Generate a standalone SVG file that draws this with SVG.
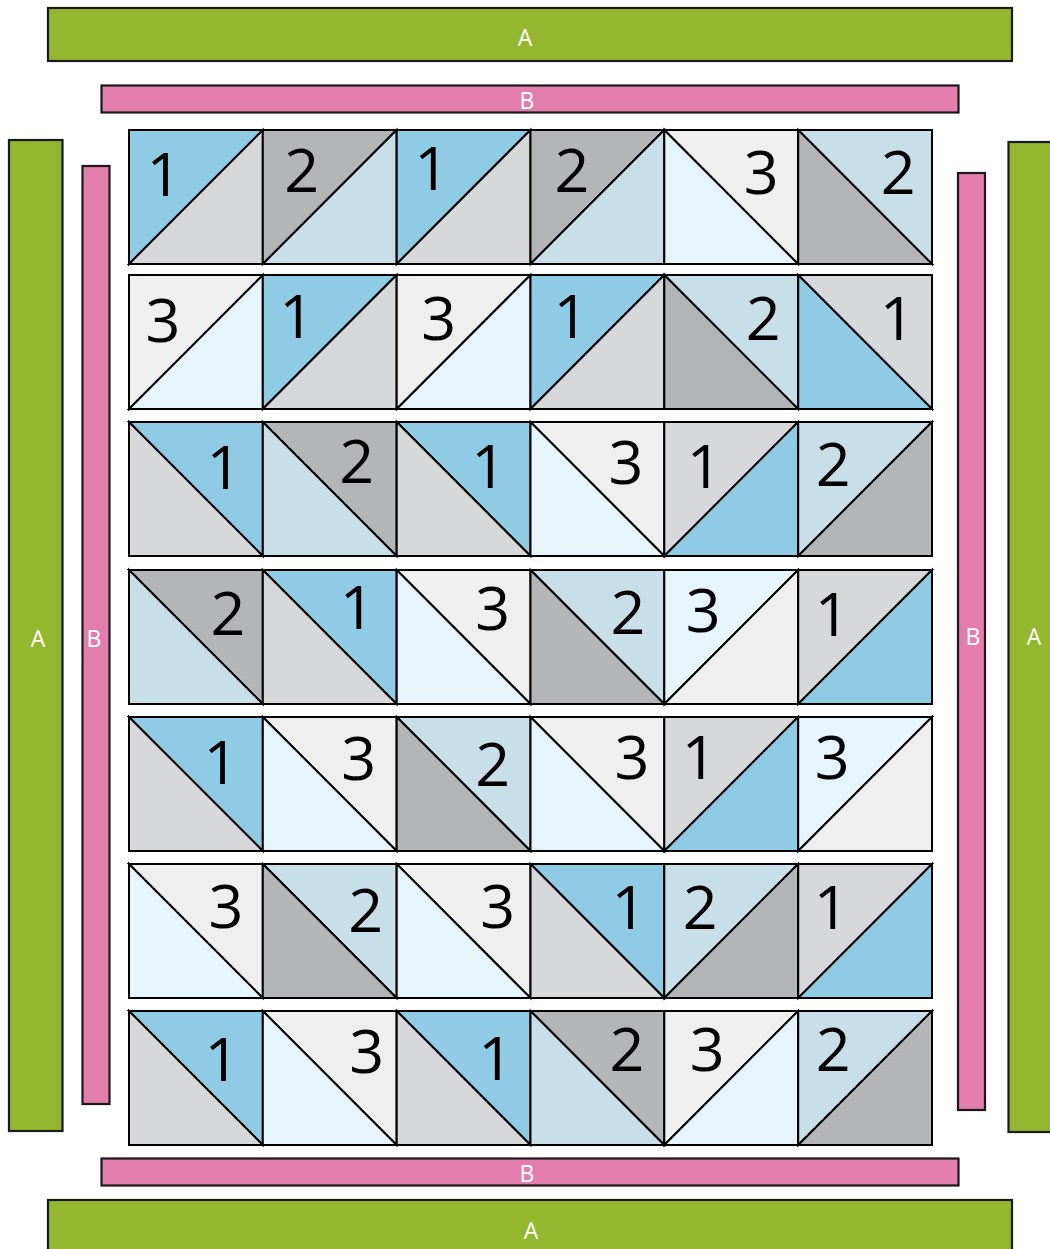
<svg xmlns="http://www.w3.org/2000/svg" width="1050" height="1249" viewBox="0 0 1050 1249">
<style>
.bg{fill:#ffffff}
.strip{stroke:#1a1a1a;stroke-width:2.2}
.sa{fill:#95b730}
.sb{fill:#e37dab}
.lbl{font-family:"Open Sans","Liberation Sans",sans-serif;font-size:23px;fill:#ffffff;text-anchor:middle}
.t{stroke:#000000;stroke-width:2;stroke-linejoin:miter}
.b1{fill:#90cbe6}
.lg{fill:#d7d8da}
.mg{fill:#b4b5b7}
.lb{fill:#c8dfea}
.vl{fill:#e6f4fb}
.ow{fill:#efefef}
.n{font-family:"Open Sans","Liberation Sans",sans-serif;font-size:61px;fill:#000000;text-anchor:middle}
</style>
<rect class="bg" x="0" y="0" width="1050" height="1249"/>
<g id="borders">
<g id="top-a"><rect class="strip sa" x="48" y="8" width="964" height="53"/><text class="lbl" x="525" y="46">A</text></g>
<g id="top-b"><rect class="strip sb" x="101.5" y="85.5" width="857" height="27"/><text class="lbl" x="527" y="109">B</text></g>
<g id="left-a"><rect class="strip sa" x="9" y="140" width="53.5" height="991"/><text class="lbl" x="38" y="647">A</text></g>
<g id="left-b"><rect class="strip sb" x="82.5" y="166" width="27" height="938"/><text class="lbl" x="94" y="647">B</text></g>
<g id="right-b"><rect class="strip sb" x="958" y="173" width="27" height="937"/><text class="lbl" x="973" y="645">B</text></g>
<g id="right-a"><rect class="strip sa" x="1008.5" y="142" width="60" height="990"/><text class="lbl" x="1034" y="645">A</text></g>
<g id="bottom-b"><rect class="strip sb" x="101.5" y="1158.5" width="857" height="27"/><text class="lbl" x="527" y="1182">B</text></g>
<g id="bottom-a"><rect class="strip sa" x="48" y="1200" width="964" height="70"/><text class="lbl" x="531" y="1239">A</text></g>
</g>
<g id="connectors"></g>
<g id="quilt">
<!-- Row 1 -->
<g id="r1c1" transform="translate(129,130)"><polygon class="t b1" points="0,0 133.8,0 0,134"/><polygon class="t lg" points="133.8,0 133.8,134 0,134"/><text class="n" x="35" y="66">1</text></g>
<g id="r1c2" transform="translate(262.8,130)"><polygon class="t mg" points="0,0 133.8,0 0,134"/><polygon class="t lb" points="133.8,0 133.8,134 0,134"/><text class="n" x="39" y="62">2</text></g>
<g id="r1c3" transform="translate(396.7,130)"><polygon class="t b1" points="0,0 133.8,0 0,134"/><polygon class="t lg" points="133.8,0 133.8,134 0,134"/><text class="n" x="35" y="60">1</text></g>
<g id="r1c4" transform="translate(530.5,130)"><polygon class="t mg" points="0,0 133.8,0 0,134"/><polygon class="t lb" points="133.8,0 133.8,134 0,134"/><text class="n" x="41.5" y="62">2</text></g>
<g id="r1c5" transform="translate(664.3,130)"><polygon class="t ow" points="0,0 133.8,0 133.8,134"/><polygon class="t vl" points="0,0 133.8,134 0,134"/><text class="n" x="97" y="64">3</text></g>
<g id="r1c6" transform="translate(798.2,130)"><polygon class="t lb" points="0,0 133.8,0 133.8,134"/><polygon class="t mg" points="0,0 133.8,134 0,134"/><text class="n" x="100" y="64">2</text></g>
<!-- Row 2 -->
<g id="r2c1" transform="translate(129,275)"><polygon class="t ow" points="0,0 133.8,0 0,134"/><polygon class="t vl" points="133.8,0 133.8,134 0,134"/><text class="n" x="34" y="67">3</text></g>
<g id="r2c2" transform="translate(262.8,275)"><polygon class="t b1" points="0,0 133.8,0 0,134"/><polygon class="t lg" points="133.8,0 133.8,134 0,134"/><text class="n" x="34" y="63">1</text></g>
<g id="r2c3" transform="translate(396.7,275)"><polygon class="t ow" points="0,0 133.8,0 0,134"/><polygon class="t vl" points="133.8,0 133.8,134 0,134"/><text class="n" x="42" y="65">3</text></g>
<g id="r2c4" transform="translate(530.5,275)"><polygon class="t b1" points="0,0 133.8,0 0,134"/><polygon class="t lg" points="133.8,0 133.8,134 0,134"/><text class="n" x="40.5" y="63">1</text></g>
<g id="r2c5" transform="translate(664.3,275)"><polygon class="t lb" points="0,0 133.8,0 133.8,134"/><polygon class="t mg" points="0,0 133.8,134 0,134"/><text class="n" x="99" y="65">2</text></g>
<g id="r2c6" transform="translate(798.2,275)"><polygon class="t lg" points="0,0 133.8,0 133.8,134"/><polygon class="t b1" points="0,0 133.8,134 0,134"/><text class="n" x="99" y="65">1</text></g>
<!-- Row 3 -->
<g id="r3c1" transform="translate(129,422)"><polygon class="t b1" points="0,0 133.8,0 133.8,134"/><polygon class="t lg" points="0,0 133.8,134 0,134"/><text class="n" x="95" y="67">1</text></g>
<g id="r3c2" transform="translate(262.8,422)"><polygon class="t mg" points="0,0 133.8,0 133.8,134"/><polygon class="t lb" points="0,0 133.8,134 0,134"/><text class="n" x="94" y="61">2</text></g>
<g id="r3c3" transform="translate(396.7,422)"><polygon class="t b1" points="0,0 133.8,0 133.8,134"/><polygon class="t lg" points="0,0 133.8,134 0,134"/><text class="n" x="92" y="66">1</text></g>
<g id="r3c4" transform="translate(530.5,422)"><polygon class="t ow" points="0,0 133.8,0 133.8,134"/><polygon class="t vl" points="0,0 133.8,134 0,134"/><text class="n" x="95.5" y="62">3</text></g>
<g id="r3c5" transform="translate(664.3,422)"><polygon class="t lg" points="0,0 133.8,0 0,134"/><polygon class="t b1" points="133.8,0 133.8,134 0,134"/><text class="n" x="40" y="66">1</text></g>
<g id="r3c6" transform="translate(798.2,422)"><polygon class="t lb" points="0,0 133.8,0 0,134"/><polygon class="t mg" points="133.8,0 133.8,134 0,134"/><text class="n" x="35" y="64">2</text></g>
<!-- Row 4 -->
<g id="r4c1" transform="translate(129,570)"><polygon class="t mg" points="0,0 133.8,0 133.8,134"/><polygon class="t lb" points="0,0 133.8,134 0,134"/><text class="n" x="99" y="65">2</text></g>
<g id="r4c2" transform="translate(262.8,570)"><polygon class="t b1" points="0,0 133.8,0 133.8,134"/><polygon class="t lg" points="0,0 133.8,134 0,134"/><text class="n" x="94.5" y="59">1</text></g>
<g id="r4c3" transform="translate(396.7,570)"><polygon class="t ow" points="0,0 133.8,0 133.8,134"/><polygon class="t vl" points="0,0 133.8,134 0,134"/><text class="n" x="96" y="60">3</text></g>
<g id="r4c4" transform="translate(530.5,570)"><polygon class="t lb" points="0,0 133.8,0 133.8,134"/><polygon class="t mg" points="0,0 133.8,134 0,134"/><text class="n" x="97.5" y="64">2</text></g>
<g id="r4c5" transform="translate(664.3,570)"><polygon class="t vl" points="0,0 133.8,0 0,134"/><polygon class="t ow" points="133.8,0 133.8,134 0,134"/><text class="n" x="39" y="62">3</text></g>
<g id="r4c6" transform="translate(798.2,570)"><polygon class="t lg" points="0,0 133.8,0 0,134"/><polygon class="t b1" points="133.8,0 133.8,134 0,134"/><text class="n" x="34" y="66">1</text></g>
<!-- Row 5 -->
<g id="r5c1" transform="translate(129,717)"><polygon class="t b1" points="0,0 133.8,0 133.8,134"/><polygon class="t lg" points="0,0 133.8,134 0,134"/><text class="n" x="92" y="67">1</text></g>
<g id="r5c2" transform="translate(262.8,717)"><polygon class="t ow" points="0,0 133.8,0 133.8,134"/><polygon class="t vl" points="0,0 133.8,134 0,134"/><text class="n" x="96" y="63">3</text></g>
<g id="r5c3" transform="translate(396.7,717)"><polygon class="t lb" points="0,0 133.8,0 133.8,134"/><polygon class="t mg" points="0,0 133.8,134 0,134"/><text class="n" x="96" y="69">2</text></g>
<g id="r5c4" transform="translate(530.5,717)"><polygon class="t ow" points="0,0 133.8,0 133.8,134"/><polygon class="t vl" points="0,0 133.8,134 0,134"/><text class="n" x="101.5" y="62">3</text></g>
<g id="r5c5" transform="translate(664.3,717)"><polygon class="t lg" points="0,0 133.8,0 0,134"/><polygon class="t b1" points="133.8,0 133.8,134 0,134"/><text class="n" x="35" y="62">1</text></g>
<g id="r5c6" transform="translate(798.2,717)"><polygon class="t vl" points="0,0 133.8,0 0,134"/><polygon class="t ow" points="133.8,0 133.8,134 0,134"/><text class="n" x="34" y="62">3</text></g>
<!-- Row 6 -->
<g id="r6c1" transform="translate(129,864)"><polygon class="t ow" points="0,0 133.8,0 133.8,134"/><polygon class="t vl" points="0,0 133.8,134 0,134"/><text class="n" x="97" y="64">3</text></g>
<g id="r6c2" transform="translate(262.8,864)"><polygon class="t lb" points="0,0 133.8,0 133.8,134"/><polygon class="t mg" points="0,0 133.8,134 0,134"/><text class="n" x="103" y="68">2</text></g>
<g id="r6c3" transform="translate(396.7,864)"><polygon class="t ow" points="0,0 133.8,0 133.8,134"/><polygon class="t vl" points="0,0 133.8,134 0,134"/><text class="n" x="101" y="64">3</text></g>
<g id="r6c4" transform="translate(530.5,864)"><polygon class="t b1" points="0,0 133.8,0 133.8,134"/><polygon class="t lg" points="0,0 133.8,134 0,134"/><text class="n" x="98.5" y="65">1</text></g>
<g id="r6c5" transform="translate(664.3,864)"><polygon class="t lb" points="0,0 133.8,0 0,134"/><polygon class="t mg" points="133.8,0 133.8,134 0,134"/><text class="n" x="36" y="65">2</text></g>
<g id="r6c6" transform="translate(798.2,864)"><polygon class="t lg" points="0,0 133.8,0 0,134"/><polygon class="t b1" points="133.8,0 133.8,134 0,134"/><text class="n" x="33" y="65">1</text></g>
<!-- Row 7 -->
<g id="r7c1" transform="translate(129,1011)"><polygon class="t b1" points="0,0 133.8,0 133.8,134"/><polygon class="t lg" points="0,0 133.8,134 0,134"/><text class="n" x="93" y="70">1</text></g>
<g id="r7c2" transform="translate(262.8,1011)"><polygon class="t ow" points="0,0 133.8,0 133.8,134"/><polygon class="t vl" points="0,0 133.8,134 0,134"/><text class="n" x="104" y="62">3</text></g>
<g id="r7c3" transform="translate(396.7,1011)"><polygon class="t b1" points="0,0 133.8,0 133.8,134"/><polygon class="t lg" points="0,0 133.8,134 0,134"/><text class="n" x="99" y="69">1</text></g>
<g id="r7c4" transform="translate(530.5,1011)"><polygon class="t mg" points="0,0 133.8,0 133.8,134"/><polygon class="t lb" points="0,0 133.8,134 0,134"/><text class="n" x="96.5" y="60">2</text></g>
<g id="r7c5" transform="translate(664.3,1011)"><polygon class="t ow" points="0,0 133.8,0 0,134"/><polygon class="t vl" points="133.8,0 133.8,134 0,134"/><text class="n" x="43" y="60">3</text></g>
<g id="r7c6" transform="translate(798.2,1011)"><polygon class="t lb" points="0,0 133.8,0 0,134"/><polygon class="t mg" points="133.8,0 133.8,134 0,134"/><text class="n" x="35" y="60">2</text></g>
</g>
</svg>
